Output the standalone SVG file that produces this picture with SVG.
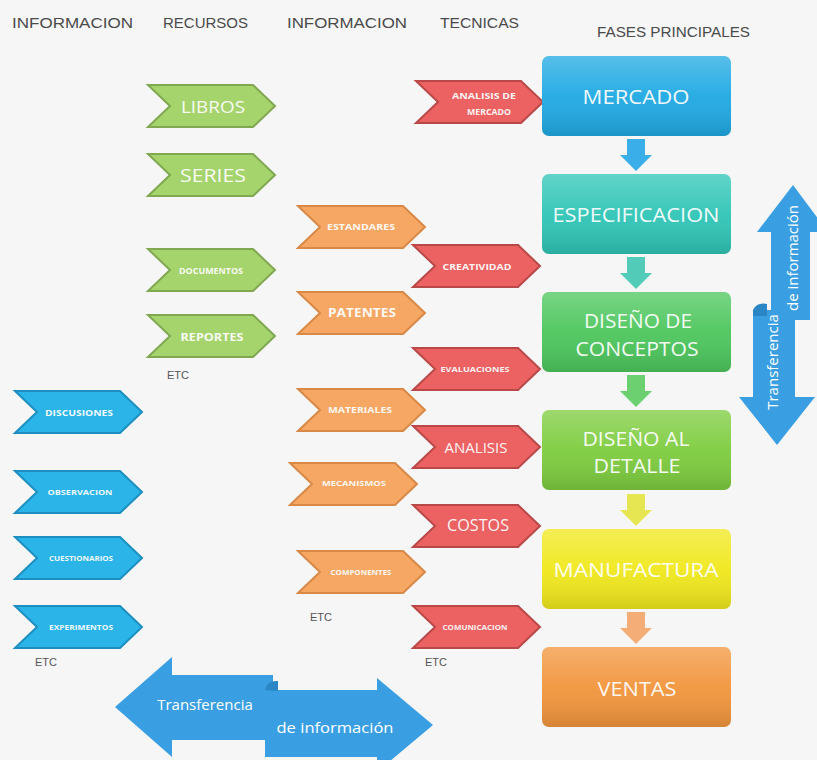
<svg xmlns="http://www.w3.org/2000/svg" xmlns:xlink="http://www.w3.org/1999/xlink" width="817" height="760" viewBox="0 0 817 760">
<style>
.hdr{font-family:"Liberation Sans",Arial,sans-serif;font-size:15px;fill:#4a4a4a;}
.ct{font-family:"Open Sans","Liberation Sans",sans-serif;fill:#fff;font-weight:bold;text-anchor:middle;dominant-baseline:central;opacity:0.92}
.ct.n{font-weight:normal}
.pt{font-family:"Open Sans","Liberation Sans",sans-serif;fill:#fff;text-anchor:middle;dominant-baseline:central;font-size:20px;opacity:0.92}
.etc{font-family:"Liberation Sans",Arial,sans-serif;font-size:11px;fill:#555;}
.g{fill:#a5d36c;stroke:#7fa851;stroke-width:2}
.o{fill:#f6a764;stroke:#d98845;stroke-width:2}
.r{fill:#ec6262;stroke:#b94848;stroke-width:2}
.b{fill:#2ab4e8;stroke:#1c8fc0;stroke-width:2}
.arr{fill:#3a9fe2}
.at{font-family:"Open Sans","Liberation Sans",sans-serif;fill:#fff;font-size:15px;text-anchor:middle;dominant-baseline:central}
</style>
<defs>
<path id="chev" d="M0,0 H105 L127,21 L105,42 H0 L22,21 Z"/>
<linearGradient id="gloss" x1="0" y1="0" x2="0" y2="1">
<stop offset="0" stop-color="#fff" stop-opacity="0.25"/>
<stop offset="0.5" stop-color="#fff" stop-opacity="0.05"/>
<stop offset="1" stop-color="#000" stop-opacity="0.12"/>
</linearGradient>
<path id="down" d="M-9,0 H9 V16 H16 L0,32 L-16,16 H-9 Z"/>
</defs>
<rect width="817" height="760" fill="#f6f6f7"/>

<g id="headers">
<text class="hdr" x="12" y="28" textLength="121" lengthAdjust="spacingAndGlyphs">INFORMACION</text>
<text class="hdr" x="163" y="28" textLength="85" lengthAdjust="spacingAndGlyphs">RECURSOS</text>
<text class="hdr" x="287" y="28" textLength="120" lengthAdjust="spacingAndGlyphs">INFORMACION</text>
<text class="hdr" x="440" y="28" textLength="79" lengthAdjust="spacingAndGlyphs">TECNICAS</text>
<text class="hdr" x="597" y="37" textLength="153" lengthAdjust="spacingAndGlyphs">FASES PRINCIPALES</text>
</g>

<g id="connectors">
<use xlink:href="#down" x="636" y="139" fill="#3aaee8"/>
<use xlink:href="#down" x="636" y="257" fill="#52cbb8"/>
<use xlink:href="#down" x="636" y="375" fill="#6ccf70"/>
<use xlink:href="#down" x="636" y="494" fill="#e6e552"/>
<use xlink:href="#down" x="636" y="612" fill="#f5ad78"/>
</g>

<g id="recursos">
<g id="libros"><use xlink:href="#chev" x="148" y="85" class="g"/><text class="ct n" x="213" y="106" font-size="17" textLength="64" lengthAdjust="spacingAndGlyphs">LIBROS</text></g>
<g id="series"><use xlink:href="#chev" x="148" y="154" class="g"/><text class="ct n" x="213" y="175" font-size="18" textLength="66" lengthAdjust="spacingAndGlyphs">SERIES</text></g>
<g id="documentos"><use xlink:href="#chev" x="148" y="249" class="g"/><text class="ct" x="211" y="270" font-size="8" textLength="64" lengthAdjust="spacingAndGlyphs">DOCUMENTOS</text></g>
<g id="reportes"><use xlink:href="#chev" x="148" y="315" class="g"/><text class="ct" x="212" y="336" font-size="11" textLength="63" lengthAdjust="spacingAndGlyphs">REPORTES</text></g>
<text class="etc" x="167" y="379">ETC</text>
</g>

<g id="informacion2">
<g id="estandares"><use xlink:href="#chev" x="298" y="206" class="o"/><text class="ct" x="361" y="226" font-size="8" textLength="68" lengthAdjust="spacingAndGlyphs">ESTANDARES</text></g>
<g id="patentes"><use xlink:href="#chev" x="298" y="292" class="o"/><text class="ct" x="362" y="312" font-size="13" textLength="68" lengthAdjust="spacingAndGlyphs">PATENTES</text></g>
<g id="materiales"><use xlink:href="#chev" x="298" y="389" class="o"/><text class="ct" x="360" y="409" font-size="9" textLength="64" lengthAdjust="spacingAndGlyphs">MATERIALES</text></g>
<g id="mecanismos"><use xlink:href="#chev" x="290" y="463" class="o"/><text class="ct" x="354" y="483" font-size="7" textLength="64" lengthAdjust="spacingAndGlyphs">MECANISMOS</text></g>
<g id="componentes"><use xlink:href="#chev" x="298" y="551" class="o"/><text class="ct" x="361" y="572" font-size="7" textLength="61" lengthAdjust="spacingAndGlyphs">COMPONENTES</text></g>
<text class="etc" x="310" y="621">ETC</text>
</g>

<g id="tecnicas">
<g id="analisis-mercado"><use xlink:href="#chev" x="416" y="81" class="r"/><text class="ct" x="484" y="95" font-size="8" textLength="64" lengthAdjust="spacingAndGlyphs">ANALISIS DE</text><text class="ct" x="489" y="111" font-size="8" textLength="44" lengthAdjust="spacingAndGlyphs">MERCADO</text></g>
<g id="creatividad"><use xlink:href="#chev" x="413" y="245" class="r"/><text class="ct" x="477" y="266" font-size="9" textLength="69" lengthAdjust="spacingAndGlyphs">CREATIVIDAD</text></g>
<g id="evaluaciones"><use xlink:href="#chev" x="413" y="348" class="r"/><text class="ct" x="475" y="369" font-size="7" textLength="69" lengthAdjust="spacingAndGlyphs">EVALUACIONES</text></g>
<g id="analisis"><use xlink:href="#chev" x="413" y="426" class="r"/><text class="ct n" x="476" y="447" font-size="15" textLength="63" lengthAdjust="spacingAndGlyphs">ANALISIS</text></g>
<g id="costos"><use xlink:href="#chev" x="413" y="505" class="r"/><text class="ct n" x="478" y="525" font-size="16" textLength="62" lengthAdjust="spacingAndGlyphs">COSTOS</text></g>
<g id="comunicacion"><use xlink:href="#chev" x="413" y="606" class="r"/><text class="ct" x="475" y="627" font-size="7" textLength="65" lengthAdjust="spacingAndGlyphs">COMUNICACION</text></g>
<text class="etc" x="425" y="666">ETC</text>
</g>

<g id="informacion1">
<g id="discusiones"><use xlink:href="#chev" x="15" y="391" class="b"/><text class="ct" x="79" y="412" font-size="8" textLength="68" lengthAdjust="spacingAndGlyphs">DISCUSIONES</text></g>
<g id="observacion"><use xlink:href="#chev" x="15" y="471" class="b"/><text class="ct" x="80" y="492" font-size="7" textLength="65" lengthAdjust="spacingAndGlyphs">OBSERVACION</text></g>
<g id="cuestionarios"><use xlink:href="#chev" x="15" y="537" class="b"/><text class="ct" x="81" y="558" font-size="7" textLength="64" lengthAdjust="spacingAndGlyphs">CUESTIONARIOS</text></g>
<g id="experimentos"><use xlink:href="#chev" x="15" y="606" class="b"/><text class="ct" x="81" y="627" font-size="7" textLength="64" lengthAdjust="spacingAndGlyphs">EXPERIMENTOS</text></g>
<text class="etc" x="35" y="666">ETC</text>
</g>

<g id="fases">
<g id="mercado"><rect x="542" y="56" width="189" height="80" rx="7" fill="#1fa9e3"/><rect x="542" y="56" width="189" height="80" rx="7" fill="url(#gloss)"/><text class="pt" x="636" y="96" textLength="107" lengthAdjust="spacingAndGlyphs">MERCADO</text></g>
<g id="especificacion"><rect x="542" y="174" width="189" height="80" rx="7" fill="#2fc5b6"/><rect x="542" y="174" width="189" height="80" rx="7" fill="url(#gloss)"/><text class="pt" x="636" y="214" textLength="167" lengthAdjust="spacingAndGlyphs">ESPECIFICACION</text></g>
<g id="diseno-conceptos"><rect x="542" y="292" width="189" height="80" rx="7" fill="#4cc65c"/><rect x="542" y="292" width="189" height="80" rx="7" fill="url(#gloss)"/><text class="pt" x="638" y="320" textLength="108" lengthAdjust="spacingAndGlyphs">DISEÑO DE</text><text class="pt" x="637" y="348" textLength="123" lengthAdjust="spacingAndGlyphs">CONCEPTOS</text></g>
<g id="diseno-detalle"><rect x="542" y="410" width="189" height="80" rx="7" fill="#7dcc3e"/><rect x="542" y="410" width="189" height="80" rx="7" fill="url(#gloss)"/><text class="pt" x="636" y="438" textLength="107" lengthAdjust="spacingAndGlyphs">DISEÑO AL</text><text class="pt" x="637" y="465" textLength="87" lengthAdjust="spacingAndGlyphs">DETALLE</text></g>
<g id="manufactura"><rect x="542" y="529" width="189" height="80" rx="7" fill="#f0e81c"/><rect x="542" y="529" width="189" height="80" rx="7" fill="url(#gloss)"/><text class="pt" x="636" y="569" textLength="165" lengthAdjust="spacingAndGlyphs">MANUFACTURA</text></g>
<g id="ventas"><rect x="542" y="647" width="189" height="80" rx="7" fill="#f2953c"/><rect x="542" y="647" width="189" height="80" rx="7" fill="url(#gloss)"/><text class="pt" x="637" y="688" textLength="79" lengthAdjust="spacingAndGlyphs">VENTAS</text></g>
</g>

<g id="transferencia-vertical">
<polygon class="arr" points="771,320 771,232 757,232 793,185 828,232 810,232 810,320"/>
<polygon class="arr" points="753,310 795,310 795,397 815,397 777,445 739,397 753,397"/>
<path d="M753,310 q4,-8 14,-6 v12 h-14 z" fill="#2a86c4"/>
<text class="at" font-size="12" transform="translate(792,258) rotate(-90)">de información</text>
<text class="at" font-size="12" transform="translate(772,362) rotate(-90)">Transferencia</text>
</g>

<g id="transferencia-horizontal">
<polygon class="arr" points="115,707 172,657 172,675 273,675 273,740 172,740 172,757"/>
<polygon class="arr" points="265,690 377,690 377,678 433,725 377,772 377,757 265,757"/>
<path d="M265,690 q2,-10 13,-9 v10 z" fill="#2a86c4"/>
<text class="at" x="205" y="704">Transferencia</text>
<text class="at" x="335" y="727" textLength="117" lengthAdjust="spacingAndGlyphs">de información</text>
</g>
</svg>
